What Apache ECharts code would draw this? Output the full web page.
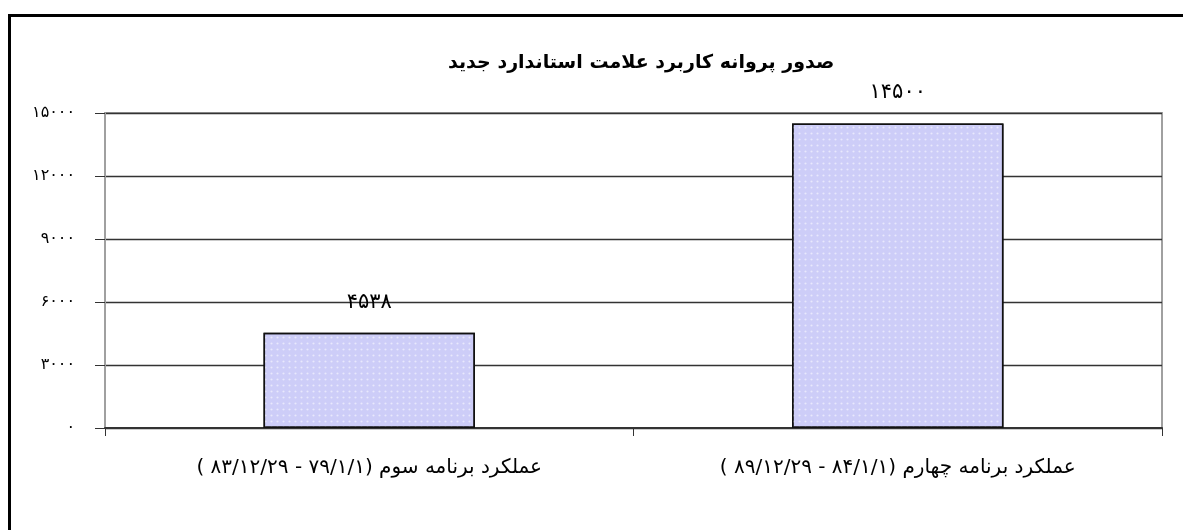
<!DOCTYPE html>
<html>
<head>
<meta charset="utf-8">
<script src="https://cdn.jsdelivr.net/npm/echarts@6/dist/echarts.min.js"></script>
<style>
  body { margin: 0; background: #fff; }
  #wrap { position: relative; width: 1183px; height: 530px; }
  #chart { width: 1183px; height: 530px; }
  #frame {
    position: absolute; left: 8px; top: 14px; right: 0; bottom: 0;
    border-left: 3px solid #000; border-top: 3px solid #000;
    pointer-events: none;
  }
</style>
</head>
<body>
<div id="wrap">
  <div id="chart"></div>
  <div id="frame"></div>
</div>
<script>
const titleText = 'صدور پروانه کاربرد علامت استاندارد جدید'
const categories = [
  'عملکرد برنامه سوم (۷۹/۱/۱ - ۸۳/۱۲/۲۹ )',
  'عملکرد برنامه چهارم (۸۴/۱/۱ - ۸۹/۱۲/۲۹ )'
]
const values = [4538, 14500]
const yTicks = [0, 3000, 6000, 9000, 12000, 15000]

// ارقام فارسی
const faDigits = '۰۱۲۳۴۵۶۷۸۹'
const toFa = v => String(v).replace(/\d/g, d => faDigits[d])
// متن راست به چپ
const rtl = s => '\u202B' + s + '\u202C'

const font = 'DejaVu Sans'

const chart = echarts.init(document.getElementById('chart'))
chart.setOption({
  backgroundColor: '#fff',
  animation: false,
  title: {
    text: rtl(titleText),
    left: 443,
    top: 49,
    textStyle: { fontFamily: font, fontSize: 19, fontWeight: 'bold', color: '#000' }
  },
  grid: {
    left: 105, right: 21, top: 113, bottom: 102,
    show: true, borderColor: '#a0a0a0', borderWidth: 2, backgroundColor: '#fff'
  },
  xAxis: {
    type: 'category',
    data: categories,
    axisLine: { lineStyle: { color: '#333', width: 2 } },
    axisTick: { show: true, length: 8, lineStyle: { color: '#333' } },
    axisLabel: {
      margin: 30, fontFamily: font, fontSize: 20, color: '#000',
      formatter: v => rtl(v)
    }
  },
  yAxis: {
    type: 'value',
    min: yTicks[0],
    max: yTicks[yTicks.length - 1],
    interval: yTicks[1] - yTicks[0],
    axisLine: { show: true, lineStyle: { color: '#a0a0a0', width: 2 } },
    axisTick: { show: true, length: 10, lineStyle: { color: '#333' } },
    axisLabel: {
      margin: 30, fontFamily: font, fontSize: 16, color: '#000',
      formatter: v => toFa(v)
    },
    splitLine: { lineStyle: { color: '#333', width: 1.3 } }
  },
  series: [{
    type: 'bar',
    data: values,
    barWidth: '40%',
    itemStyle: {
      color: '#cdcdf8',
      borderColor: '#111',
      borderWidth: 1.5,
      decal: {
        symbol: 'circle',
        symbolSize: 0.7,
        color: 'rgba(255,255,255,0.55)',
        dashArrayX: [[3, 3]],
        dashArrayY: [3, 3]
      }
    },
    label: {
      show: true,
      position: 'top',
      distance: 20,
      fontFamily: font,
      fontSize: 21,
      color: '#000',
      formatter: p => toFa(p.value)
    }
  }]
})
</script>
</body>
</html>
